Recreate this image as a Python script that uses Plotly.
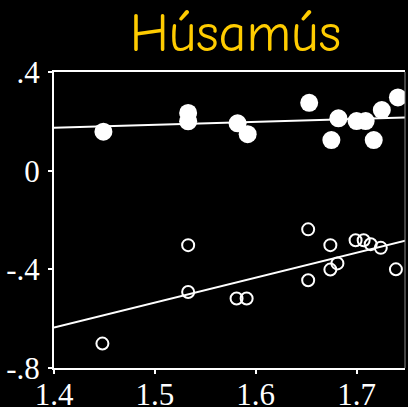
import plotly.graph_objects as go

# Filled circles (upper series)
filled_x = [1.449, 1.533, 1.533, 1.582, 1.592, 1.653, 1.675, 1.682, 1.700, 1.709, 1.717, 1.725, 1.741]
filled_y = [0.158, 0.234, 0.200, 0.192, 0.148, 0.275, 0.124, 0.212, 0.201, 0.201, 0.124, 0.246, 0.297]

# Open circles (lower series)
open_x = [1.448, 1.533, 1.533, 1.581, 1.591, 1.652, 1.652, 1.674, 1.674, 1.681, 1.699, 1.707, 1.714, 1.724, 1.739]
open_y = [-0.701, -0.302, -0.492, -0.518, -0.518, -0.238, -0.444, -0.302, -0.401, -0.376, -0.282, -0.282, -0.298, -0.313, -0.400]

# Regression lines (endpoints)
fit_x = [1.4, 1.75]
fit_filled_y = [0.174, 0.216]
fit_open_y = [-0.636, -0.282]

x_ticks = [1.4, 1.5, 1.6, 1.7]
x_tick_labels = ["1.4", "1.5", "1.6", "1.7"]
y_ticks = [-0.8, -0.4, 0, 0.4]
y_tick_labels = ["-.8", "-.4", "0", ".4"]

title_text = "Húsamús"

fig = go.Figure()
fig.add_trace(go.Scatter(x=fit_x, y=fit_filled_y, mode="lines",
                         line=dict(color="white", width=2), showlegend=False))
fig.add_trace(go.Scatter(x=fit_x, y=fit_open_y, mode="lines",
                         line=dict(color="white", width=2), showlegend=False))
fig.add_trace(go.Scatter(x=filled_x, y=filled_y, mode="markers",
                         marker=dict(symbol="circle", size=18, color="white", line=dict(width=0)),
                         showlegend=False))
fig.add_trace(go.Scatter(x=open_x, y=open_y, mode="markers",
                         marker=dict(symbol="circle-open", size=12, color="white", line=dict(width=2)),
                         showlegend=False))

fig.update_layout(
    width=408, height=407,
    paper_bgcolor="black", plot_bgcolor="black",
    margin=dict(l=54, r=3, t=72, b=39, autoexpand=False),
    title=dict(text=title_text, x=0.577, xanchor="center", y=0.92, yanchor="middle",
               font=dict(family="Comic Sans MS, Comic Neue, Noto Sans", size=54, color="#FFCC00")),
    font=dict(family="Liberation Serif, Times New Roman, serif", color="white", size=31),
)
fig.update_xaxes(range=[1.4, 1.748], tickvals=x_ticks, ticktext=x_tick_labels, automargin=False,
                 showgrid=False, zeroline=False, showline=True, linecolor="white", linewidth=2,
                 mirror=True, ticks="outside", ticklen=4, tickwidth=2, tickcolor="white",
                 ticklabelstandoff=-6,
                 tickfont=dict(size=31, color="white"))
fig.update_yaxes(range=[-0.8, 0.4], tickvals=y_ticks, ticktext=y_tick_labels, automargin=False,
                 showgrid=False, zeroline=False, showline=True, linecolor="white", linewidth=2,
                 ticks="outside", ticklen=4, tickwidth=2, tickcolor="white",
                 ticklabelstandoff=2,
                 tickfont=dict(size=31, color="white"))
fig.add_shape(type="line", xref="paper", yref="paper", x0=1, x1=1, y0=0, y1=1,
              line=dict(color="#888888", width=1))

fig.write_html("out.html", config={"displayModeBar": False},
               post_script="document.body.style.margin='0';document.body.style.background='black';document.body.style.overflow='hidden';")
